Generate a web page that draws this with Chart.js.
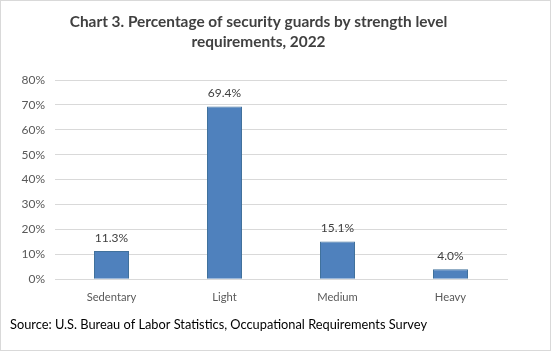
<!DOCTYPE html>
<html>
<head>
<meta charset="utf-8">
<script src="https://cdn.jsdelivr.net/npm/chart.js@4"></script>
<style>
  html, body { margin: 0; padding: 0; background: #fff; }
  #wrap { width: 551px; height: 351px; position: relative; }
</style>
</head>
<body>
<div id="wrap"><canvas id="strengthChart"></canvas></div>
<script>
    'use strict';

    // data
    var categories = ['Sedentary', 'Light', 'Medium', 'Heavy'];
    var percentages = [11.3, 69.4, 15.1, 4.0];
    var titleLines = ['Chart 3. Percentage of security guards by strength level', 'requirements, 2022'];
    var sourceNote = 'Source: U.S. Bureau of Labor Statistics, Occupational Requirements Survey';

    var fontFamily = 'Lato, "Open Sans", sans-serif';

    // values printed over each bar
    var barLabels = {
        id: 'barLabels',
        afterDatasetsDraw: function (chart) {
            var ctx = chart.ctx;
            var meta = chart.getDatasetMeta(0);
            ctx.save();
            ctx.font = '12px ' + fontFamily;
            ctx.fillStyle = '#404040';
            ctx.textAlign = 'center';
            ctx.textBaseline = 'middle';
            meta.data.forEach(function (bar, i) {
                ctx.fillText(percentages[i].toFixed(1) + '%', bar.x, bar.y - 13);
            });
            ctx.restore();
        }
    };

    // white page + thin grey frame
    var frame = {
        id: 'frame',
        beforeDraw: function (chart) {
            var ctx = chart.ctx;
            ctx.save();
            ctx.fillStyle = '#fff';
            ctx.fillRect(0, 0, chart.width, chart.height);
            ctx.restore();
        },
        afterDraw: function (chart) {
            var ctx = chart.ctx;
            ctx.save();
            ctx.strokeStyle = '#d9d9d9';
            ctx.lineWidth = 1;
            ctx.strokeRect(0.5, 0.5, chart.width - 1, chart.height - 1);
            ctx.restore();
        }
    };

    new Chart(document.getElementById('strengthChart'), {
        type: 'bar',
        data: {
            labels: categories,
            datasets: [{
                data: percentages,
                backgroundColor: '#4f81bd',
                borderColor: '#41719c',
                borderWidth: 1,
                barPercentage: 0.31,
                categoryPercentage: 1
            }]
        },
        options: {
            responsive: true,
            maintainAspectRatio: false,
            animation: false,
            layout: { padding: { left: 10, right: 44, top: 0, bottom: 8 } },
            plugins: {
                legend: { display: false },
                tooltip: { enabled: false },
                title: {
                    display: true,
                    text: titleLines,
                    color: '#404040',
                    font: { family: fontFamily, size: 15.4, weight: 'bold', lineHeight: 1.3 },
                    padding: { top: 12, bottom: 28 }
                },
                subtitle: {
                    display: true,
                    position: 'bottom',
                    align: 'start',
                    text: sourceNote,
                    color: '#000',
                    font: { family: fontFamily, size: 12.8 },
                    padding: { top: 3, bottom: 10 }
                }
            },
            scales: {
                x: {
                    grid: { display: false, drawTicks: false },
                    border: { color: '#d9d9d9' },
                    ticks: { color: '#595959', font: { family: fontFamily, size: 11.2 }, padding: 11 }
                },
                y: {
                    min: 0,
                    max: 80,
                    grid: { color: '#d9d9d9', drawTicks: false },
                    border: { display: false },
                    afterFit: function (scale) { scale.width = 45; },
                    ticks: {
                        stepSize: 10,
                        padding: 10,
                        color: '#595959',
                        font: { family: fontFamily, size: 12 },
                        callback: function (v) { return v + '%'; }
                    }
                }
            }
        },
        plugins: [frame, barLabels]
    });
</script>
</body>
</html>
